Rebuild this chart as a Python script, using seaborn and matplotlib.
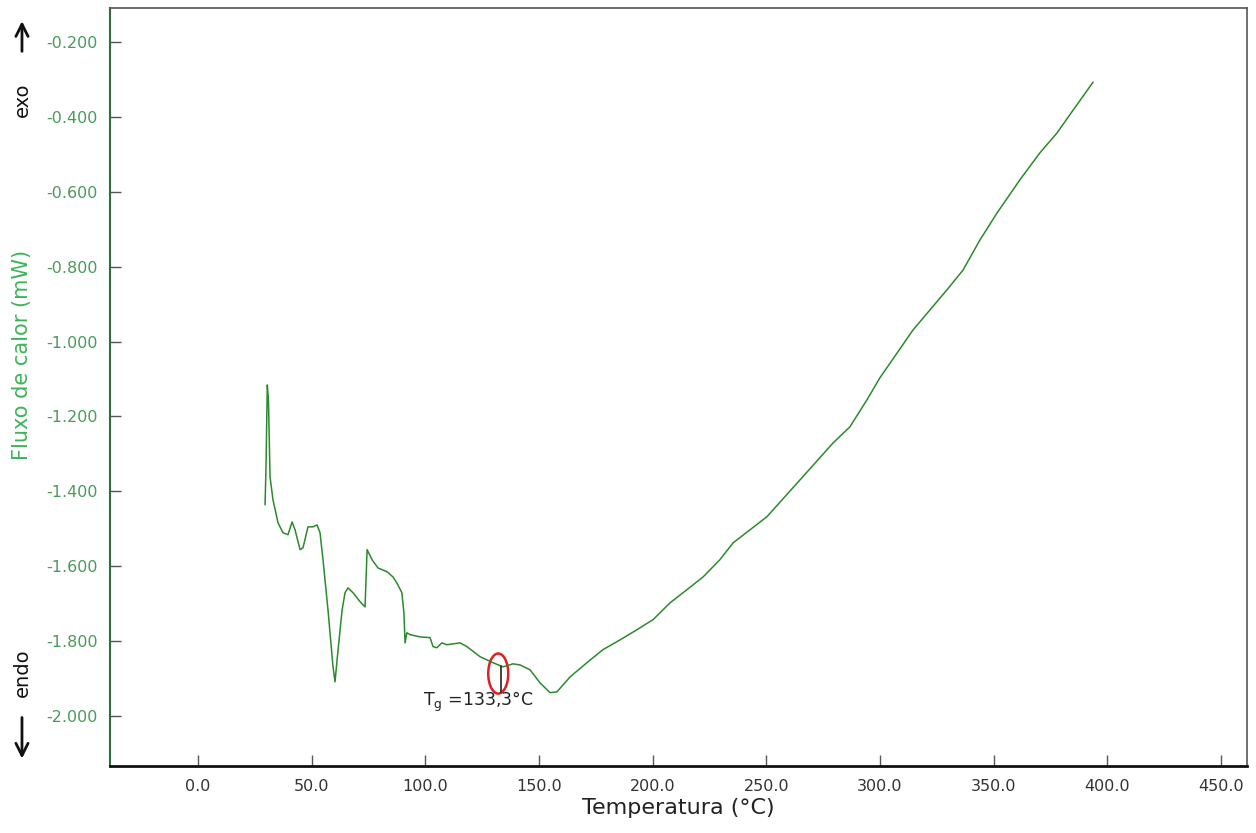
import numpy as np
import pandas as pd
import matplotlib
matplotlib.use('Agg')
import matplotlib.pyplot as plt
import seaborn as sns
from matplotlib.patches import Ellipse, FancyArrowPatch

# curva DSC
temperatura = [29.5, 29.9, 30.5, 31.0, 31.7, 33.0, 35.2, 37.4, 39.6, 41.4, 42.7, 44.9,
               46.2, 48.4, 50.6, 52.4, 53.7, 55.0, 57.2, 59.4, 60.3, 61.2, 63.4, 64.7,
               66.0, 68.2, 71.3, 73.5, 74.4, 76.6, 79.2, 83.2, 85.8, 87.5, 89.7, 90.6,
               91.1, 91.9, 93.3, 97.7, 102.1, 103.4, 105.1, 107.3, 109.5, 115.3, 118.3,
               124.1, 129.8, 134.2, 138.6, 141.7, 146.1, 150.5, 154.9, 157.9, 163.7,
               171.1, 178.2, 185.7, 193.1, 200.2, 207.7, 215.1, 222.2, 229.6, 235.4,
               250.3, 264.8, 279.4, 286.8, 294.3, 300.0, 314.6, 329.5, 336.6, 344.0,
               351.5, 361.6, 370.4, 377.9, 385.0, 393.8]
fluxo = [-1.436, -1.343, -1.116, -1.156, -1.362, -1.423, -1.484, -1.511, -1.516, -1.482,
         -1.503, -1.556, -1.551, -1.495, -1.495, -1.490, -1.511, -1.583, -1.717, -1.869,
         -1.909, -1.850, -1.717, -1.671, -1.658, -1.671, -1.695, -1.709, -1.556, -1.583,
         -1.605, -1.615, -1.629, -1.645, -1.671, -1.725, -1.805, -1.778, -1.783, -1.789,
         -1.791, -1.815, -1.818, -1.805, -1.810, -1.805, -1.815, -1.842, -1.858, -1.869,
         -1.861, -1.864, -1.877, -1.912, -1.938, -1.936, -1.896, -1.858, -1.823, -1.797,
         -1.770, -1.743, -1.698, -1.663, -1.629, -1.583, -1.538, -1.468, -1.370, -1.271,
         -1.228, -1.156, -1.097, -0.969, -0.862, -0.809, -0.729, -0.657, -0.568, -0.496,
         -0.443, -0.382, -0.307]

x_ticks = [0, 50, 100, 150, 200, 250, 300, 350, 400, 450]
y_ticks = [-0.2, -0.4, -0.6, -0.8, -1.0, -1.2, -1.4, -1.6, -1.8, -2.0]

tg = 133.3
tg_fluxo = [-1.866, -1.935]
tg_texto = 'T$_\\mathregular{g}$ =133,3°C'

df = pd.DataFrame({'Temperatura': temperatura, 'Fluxo': fluxo})

sns.set_style('white')
plt.rcParams['font.family'] = ['DejaVu Sans']

fig = plt.figure(figsize=(12.56, 8.33), dpi=100)
ax = fig.add_axes([0.0876, 0.0804, 0.9052, 0.91])

sns.lineplot(data=df, x='Temperatura', y='Fluxo', color='#2b8a2b', linewidth=1.1, ax=ax)

ax.set_xlim(-38.7, 461.5)
ax.set_ylim(-2.134, -0.109)
ax.set_xticks(x_ticks)
ax.set_xticklabels([f'{v:.1f}' for v in x_ticks], fontsize=11.5, color='#333333')
ax.set_yticks(y_ticks)
ax.set_yticklabels([f'{v:.3f}' for v in y_ticks], fontsize=11.5, color='#4a9a5a')
ax.tick_params(direction='in', length=8, width=1, left=True, bottom=True, pad=9)
ax.tick_params(axis='y', labelcolor='#4a9a5a', color='#555555')
ax.tick_params(axis='x', labelcolor='#333333', color='#555555')

ax.set_xlabel('Temperatura (°C)', fontsize=16, color='#222222', labelpad=3)
ax.set_ylabel('')

for lado in ['top', 'right']:
    ax.spines[lado].set_color('#555555')
    ax.spines[lado].set_linewidth(1.2)
ax.spines['left'].set_color('#2e6e3e')
ax.spines['left'].set_linewidth(1.5)
ax.spines['bottom'].set_color('#111111')
ax.spines['bottom'].set_linewidth(2)

# rótulo do eixo y e indicações exo / endo
fig.text(0.0175, 0.574, 'Fluxo de calor (mW)', rotation=90, ha='center', va='center',
         fontsize=15, color='#3cb45a')
fig.text(0.0175, 0.88, 'exo', rotation=90, ha='center', va='center', fontsize=14, color='#111111')
fig.text(0.0175, 0.193, 'endo', rotation=90, ha='center', va='center', fontsize=14, color='#111111')
fig.add_artist(FancyArrowPatch((0.0175, 0.935), (0.0175, 0.978), transform=fig.transFigure,
                               arrowstyle='->', mutation_scale=22, linewidth=2, color='#111111'))
fig.add_artist(FancyArrowPatch((0.0175, 0.142), (0.0175, 0.086), transform=fig.transFigure,
                               arrowstyle='->', mutation_scale=22, linewidth=2, color='#111111'))

# marcação da Tg
ax.plot([tg, tg], tg_fluxo, color='#222222', linewidth=1.2)
ax.add_patch(Ellipse((tg - 1.2, -1.887), width=8.8, height=0.107, fill=False,
                     edgecolor='#e02020', linewidth=1.8))
ax.text(99.0, -1.962, tg_texto, fontsize=12.5, color='#222222', ha='left', va='center')

fig.savefig('out.png', dpi=100)
